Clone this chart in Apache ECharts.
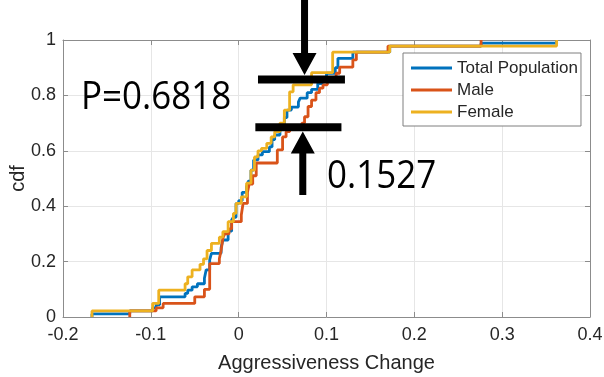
<!DOCTYPE html>
<html>
<head>
<meta charset="utf-8">
<script src="https://cdn.jsdelivr.net/npm/echarts@6/dist/echarts.min.js"></script>
<style>
  html, body { margin: 0; padding: 0; background: #fff; }
  #chart { width: 604px; height: 377px; }
</style>
</head>
<body>
<div id="chart"></div>
<script>
// x ticks / y ticks
const xTicks = [-0.2, -0.1, 0, 0.1, 0.2, 0.3, 0.4];
const yTicks = [0, 0.2, 0.4, 0.6, 0.8, 1];

const seriesNames = ['Total Population', 'Male', 'Female'];

const totalX = [-0.167, -0.167, -0.124, -0.098, -0.094, -0.090, -0.061, -0.058, -0.053, -0.047,
  -0.039, -0.037, -0.033, -0.031, -0.020, -0.018, -0.012, -0.008, -0.006, -0.003,
  0.000, 0.004, 0.009, 0.011, 0.014, 0.017, 0.022, 0.027, 0.035, 0.038,
  0.041, 0.047, 0.052, 0.055, 0.060, 0.068, 0.070, 0.078, 0.083, 0.090,
  0.095, 0.100, 0.110, 0.113, 0.130, 0.172, 0.276, 0.362];
const totalY = [0, 0.011, 0.022, 0.033, 0.044, 0.073, 0.085, 0.097, 0.109, 0.12,
  0.14, 0.17, 0.206, 0.23, 0.25, 0.278, 0.31, 0.35, 0.36, 0.41,
  0.42, 0.45, 0.47, 0.49, 0.53, 0.567, 0.585, 0.597, 0.614, 0.64,
  0.657, 0.68, 0.72, 0.747, 0.758, 0.776, 0.79, 0.81, 0.822, 0.843,
  0.86, 0.88, 0.90, 0.934, 0.956, 0.978, 0.989, 1];

const maleX = [-0.124, -0.124, -0.094, -0.086, -0.050, -0.039, -0.033, -0.022, -0.020, -0.018,
  -0.016, -0.011, -0.008, 0.003, 0.005, 0.010, 0.012, 0.016, 0.020, 0.044,
  0.050, 0.054, 0.058, 0.072, 0.075, 0.079, 0.083, 0.088, 0.092, 0.096,
  0.101, 0.111, 0.115, 0.130, 0.134, 0.170, 0.276];
const maleY = [0, 0.022, 0.033, 0.049, 0.073, 0.10, 0.193, 0.21, 0.24, 0.284,
  0.30, 0.318, 0.344, 0.368, 0.41, 0.45, 0.48, 0.51, 0.556, 0.603,
  0.65, 0.669, 0.69, 0.70, 0.723, 0.76, 0.783, 0.81, 0.826, 0.838,
  0.856, 0.88, 0.902, 0.928, 0.956, 0.978, 1];

const femaleX = [-0.167, -0.167, -0.098, -0.091, -0.061, -0.058, -0.053, -0.044, -0.040, -0.036,
  -0.031, -0.022, -0.018, -0.012, -0.006, -0.003, 0.003, 0.009, 0.014, 0.018,
  0.022, 0.026, 0.032, 0.037, 0.041, 0.047, 0.052, 0.058, 0.062, 0.083,
  0.107, 0.172, 0.362];
const femaleY = [0, 0.022, 0.049, 0.097, 0.12, 0.145, 0.17, 0.19, 0.21, 0.24,
  0.266, 0.288, 0.308, 0.344, 0.374, 0.41, 0.434, 0.483, 0.53, 0.578,
  0.60, 0.609, 0.627, 0.65, 0.669, 0.70, 0.747, 0.813, 0.838, 0.882,
  0.956, 0.978, 1];

// annotation: two bars (x from, x to, level) and two arrows (x, tail level, tip level)
const annoBars = [[0.022, 0.121, 0.857], [0.019, 0.117, 0.685]];
const annoArrows = [[0.075, 1.15, 0.874], [0.073, 0.44, 0.670]];
const annoTexts = ['P=0.6818', '0.1527'];

const colors = ['#0072BD', '#D95319', '#EDB120'];
const axisGray = '#8c8c8c';
const textGray = '#262626';
const font = 'Liberation Sans, Arial, Helvetica, sans-serif';

function pairs(xs, ys) {
  return xs.map((x, i) => [x, ys[i]]);
}

const chart = echarts.init(document.getElementById('chart'), null, { renderer: 'canvas' });

const xBase = {
  type: 'value',
  min: xTicks[0],
  max: xTicks[xTicks.length - 1],
  interval: 0.1,
  axisLine: { show: true, onZero: false, lineStyle: { color: axisGray, width: 1 } },
  axisTick: { show: true, inside: true, length: 5, lineStyle: { color: axisGray } },
};
const yBase = {
  type: 'value',
  min: yTicks[0],
  max: yTicks[yTicks.length - 1],
  interval: 0.2,
  axisLine: { show: true, onZero: false, lineStyle: { color: axisGray, width: 1 } },
  axisTick: { show: true, inside: true, length: 5, lineStyle: { color: axisGray } },
};

const option = {
  animation: false,
  backgroundColor: '#fff',
  color: colors,
  grid: { left: 63, right: 14, top: 40, bottom: 60, containLabel: false, outerBoundsMode: 'none' },
  legend: {
    orient: 'vertical',
    left: 403,
    top: 53,
    icon: 'rect',
    itemWidth: 41,
    itemHeight: 3,
    itemGap: 4,
    padding: [6, 3, 5, 8],
    borderColor: '#7f7f7f',
    borderWidth: 1,
    backgroundColor: '#fff',
    textStyle: { fontSize: 17, lineHeight: 18, color: textGray, fontFamily: font },
    data: seriesNames,
  },
  xAxis: [
    Object.assign({}, xBase, {
      position: 'bottom',
      name: 'Aggressiveness Change',
      nameLocation: 'middle',
      nameGap: 36,
      nameMoveOverlap: false,
      nameTextStyle: { fontSize: 20, color: textGray, fontFamily: font },
      axisLabel: { color: textGray, fontSize: 18, margin: 9, fontFamily: font },
      splitLine: { show: true, lineStyle: { color: '#e6e6e6', width: 1 } },
    }),
    Object.assign({}, xBase, {
      position: 'top',
      axisLabel: { show: false },
      splitLine: { show: false },
    }),
  ],
  yAxis: [
    Object.assign({}, yBase, {
      position: 'left',
      name: 'cdf',
      nameLocation: 'middle',
      nameGap: 35,
      nameMoveOverlap: false,
      nameTextStyle: { fontSize: 20, color: textGray, fontFamily: font },
      axisLabel: { color: textGray, fontSize: 18, margin: 7, fontFamily: font },
      splitLine: { show: true, lineStyle: { color: '#e6e6e6', width: 1 } },
    }),
    Object.assign({}, yBase, {
      position: 'right',
      axisLabel: { show: false },
      splitLine: { show: false },
    }),
  ],
  series: [
    { name: seriesNames[0], data: pairs(totalX, totalY) },
    { name: seriesNames[1], data: pairs(maleX, maleY) },
    { name: seriesNames[2], data: pairs(femaleX, femaleY) },
  ].map((s) => Object.assign({
    type: 'line',
    step: 'end',
    symbol: 'none',
    clip: false,
    lineStyle: { width: 2.8 },
    xAxisIndex: 0,
    yAxisIndex: 0,
  }, s)),
};

chart.setOption(option);

// annotations placed through the grid's own coordinate conversion
const toPx = (p) => chart.convertToPixel({ gridIndex: 0 }, p);
const graphics = [];

annoBars.forEach(([x0, x1, y]) => {
  const a = toPx([x0, y]);
  const b = toPx([x1, y]);
  graphics.push({
    type: 'rect', z: 100,
    shape: { x: a[0], y: a[1] - 4, width: b[0] - a[0], height: 8 },
    style: { fill: '#000' },
  });
});

annoArrows.forEach(([x, yTail, yTip]) => {
  const tail = toPx([x, yTail]);
  const tip = toPx([x, yTip]);
  const dir = tip[1] > tail[1] ? 1 : -1;
  const headLen = 22;
  const headHalf = 12;
  const shaftHalf = 3.5;
  const cx = tip[0];
  const hb = tip[1] - dir * headLen;
  graphics.push({
    type: 'polygon', z: 100,
    shape: {
      points: [
        [cx - shaftHalf, tail[1]], [cx + shaftHalf, tail[1]],
        [cx + shaftHalf, hb], [cx + headHalf, hb],
        [cx, tip[1]],
        [cx - headHalf, hb], [cx - shaftHalf, hb],
      ],
    },
    style: { fill: '#000' },
  });
});

graphics.push({
  type: 'text', z: 100, x: 81, y: 98, scaleX: 0.92,
  style: { text: annoTexts[0], fill: '#000', font: '38px "Open Sans"', textVerticalAlign: 'middle' },
});
graphics.push({
  type: 'text', z: 100, x: 327, y: 177, scaleX: 0.92,
  style: { text: annoTexts[1], fill: '#000', font: '38px "Open Sans"', textVerticalAlign: 'middle' },
});

chart.setOption({ graphic: graphics });
</script>
</body>
</html>
